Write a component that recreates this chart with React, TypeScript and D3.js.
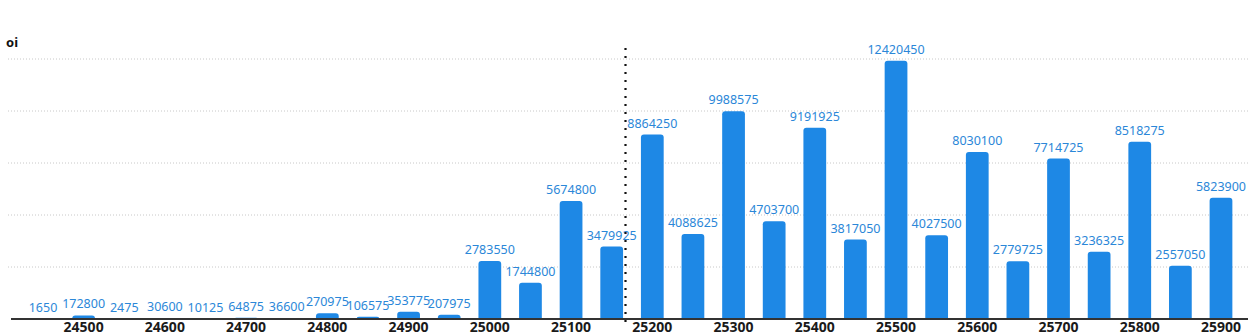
import React from "react";
import * as d3 from "d3";

const strikes: number[] = [
  24450, 24500, 24550, 24600, 24650, 24700, 24750, 24800, 24850, 24900,
  24950, 25000, 25050, 25100, 25150, 25200, 25250, 25300, 25350, 25400,
  25450, 25500, 25550, 25600, 25650, 25700, 25750, 25800, 25850, 25900,
];
const oiValues: number[] = [
  1650, 172800, 2475, 30600, 10125, 64875, 36600, 270975, 106575, 353775,
  207975, 2783550, 1744800, 5674800, 3479925, 8864250, 4088625, 9988575, 4703700, 9191925,
  3817050, 12420450, 4027500, 8030100, 2779725, 7714725, 3236325, 8518275, 2557050, 5823900,
];
const xTickLabels: number[] = [
  24500, 24600, 24700, 24800, 24900, 25000, 25100, 25200, 25300, 25400,
  25500, 25600, 25700, 25800, 25900,
];
const yGridTicks: number[] = [2500000, 5000000, 7500000, 10000000, 12500000];
const spotPrice = 25167;
const yTitle = "oi";

const W = 1255;
const H = 336;
const BAR = "#1e88e5";
const LABEL = "#2b87d8";

function topRoundedBar(x: number, y: number, w: number, h: number, r: number) {
  const rr = Math.min(r, h, w / 2);
  return `M${x},${y + h} L${x},${y + rr} Q${x},${y} ${x + rr},${y} L${x + w - rr},${y} Q${x + w},${y} ${x + w},${y + rr} L${x + w},${y + h} Z`;
}

export default function App() {
  const x = d3
    .scaleBand<number>()
    .domain(strikes)
    .range([22.7, 1241.3])
    .paddingInner(0.44)
    .paddingOuter(0.22);
  const y = d3.scaleLinear().domain([0, 12500000]).range([319, 59]);
  const step = x.step();
  const bw = x.bandwidth();
  const center = (s: number) => (x(s) as number) + bw / 2;

  // spot line position: interpolate between strikes
  const lo = strikes.filter((s) => s <= spotPrice).slice(-1)[0];
  const spotX = center(lo) + ((spotPrice - lo) / 50) * step;

  return (
    <svg
      width={W}
      height={H}
      style={{ position: "absolute", left: 0, top: 0, background: "#fff" }}
      fontFamily="'Noto Sans', sans-serif"
    >
      <text x={6} y={47} fontSize={13} fontWeight="bold" fill="#111">
        {yTitle}
      </text>
      {yGridTicks.map((t) => (
        <line
          key={t}
          x1={8}
          x2={1250}
          y1={y(t)}
          y2={y(t)}
          stroke="#c8c8c8"
          strokeWidth={1}
          strokeDasharray="1,2"
        />
      ))}
      {strikes.map((s, i) => {
        const v = oiValues[i];
        const top = y(v);
        const h = y(0) - top;
        return (
          <g key={s}>
            {h > 0.3 && (
              <path d={topRoundedBar(x(s) as number, top, bw, h, 3)} fill={BAR} />
            )}
            <text
              x={center(s)}
              y={top - 7}
              textAnchor="middle"
              fontSize={12.5}
              fill={LABEL}
            >
              {v}
            </text>
          </g>
        );
      })}
      <line x1={11} x2={1248} y1={y(0)} y2={y(0)} stroke="#333" strokeWidth={2} />
      {xTickLabels.map((t) => (
        <text
          key={t}
          x={center(t)}
          y={332}
          textAnchor="middle"
          fontSize={14}
          fontWeight="bold"
          fill="#1a1a1a"
        >
          {t}
        </text>
      ))}
      <line
        x1={spotX}
        x2={spotX}
        y1={48}
        y2={326}
        stroke="#111"
        strokeWidth={2.2}
        strokeDasharray="2,6"
      />
    </svg>
  );
}
